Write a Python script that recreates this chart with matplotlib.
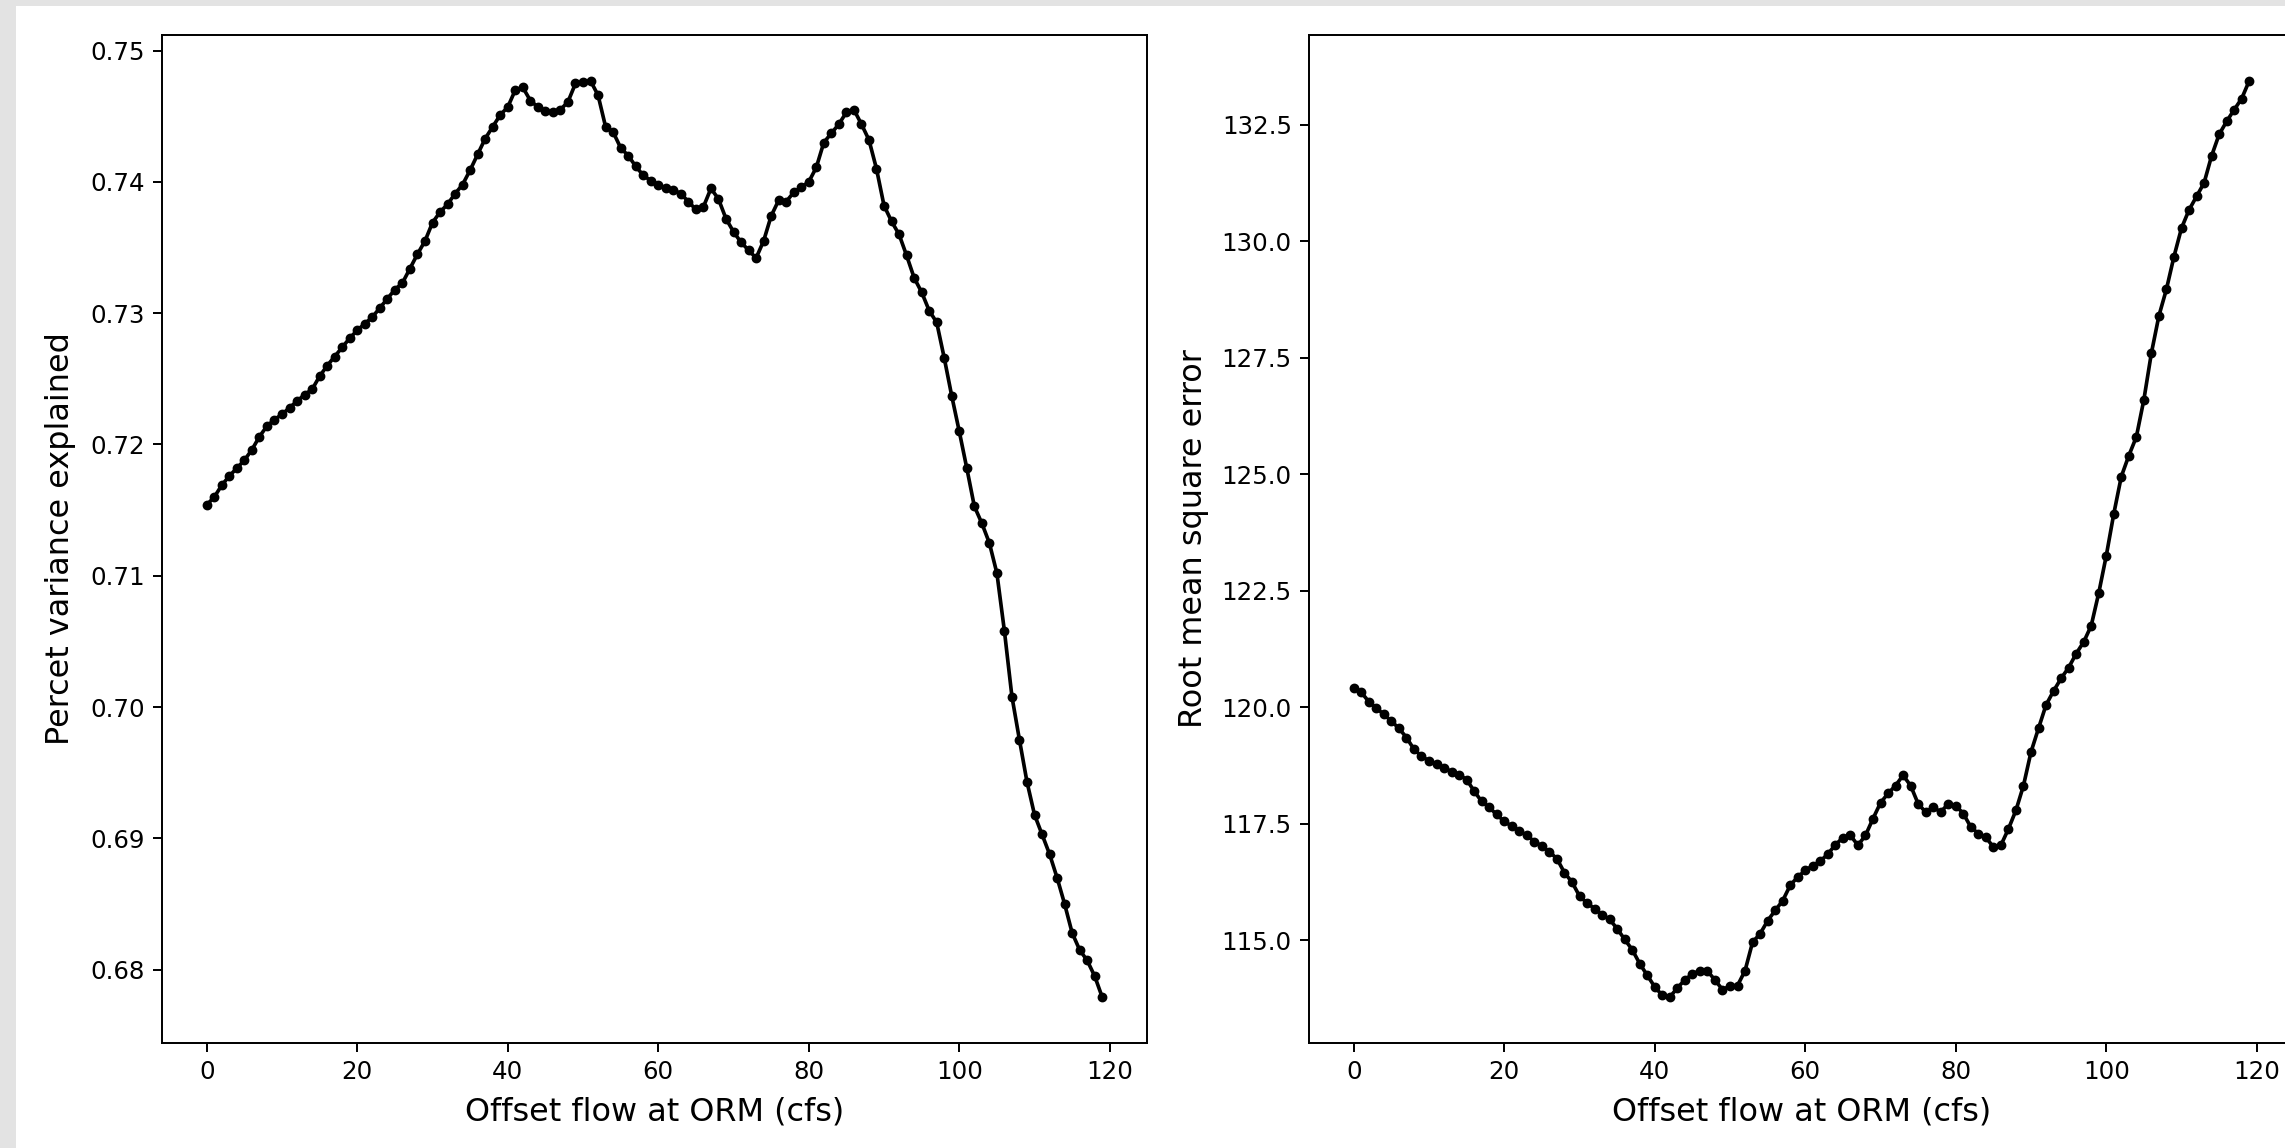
import numpy as np
import matplotlib
matplotlib.use("Agg")
import matplotlib.pyplot as plt
from matplotlib.patches import Rectangle

# ---------------- data ----------------
offset_cfs = list(range(0, 120))

pct_variance = [
    0.7154, 0.7160, 0.7169, 0.7176, 0.7182, 0.7188, 0.7196, 0.7206, 0.7214, 0.7219,
    0.7223, 0.7228, 0.7233, 0.7238, 0.7242, 0.7252, 0.7260, 0.7267, 0.7274, 0.7281,
    0.7287, 0.7292, 0.7297, 0.7304, 0.7311, 0.7318, 0.7323, 0.7334, 0.7345, 0.7355,
    0.7369, 0.7377, 0.7383, 0.7391, 0.7398, 0.7409, 0.7421, 0.7433, 0.7442, 0.7451,
    0.7457, 0.7470, 0.7472, 0.7462, 0.7457, 0.7454, 0.7453, 0.7455, 0.7461, 0.7475,
    0.7476, 0.7477, 0.7466, 0.7442, 0.7438, 0.7426, 0.7420, 0.7412, 0.7405, 0.7401,
    0.7398, 0.7395, 0.7394, 0.7391, 0.7385, 0.7379, 0.7381, 0.7395, 0.7387, 0.7372,
    0.7362, 0.7354, 0.7348, 0.7342, 0.7355, 0.7374, 0.7386, 0.7385, 0.7392, 0.7396,
    0.7400, 0.7411, 0.7430, 0.7437, 0.7444, 0.7453, 0.7455, 0.7444, 0.7432, 0.7410,
    0.7382, 0.7370, 0.7360, 0.7344, 0.7327, 0.7316, 0.7302, 0.7293, 0.7266, 0.7237,
    0.7210, 0.7182, 0.7153, 0.7140, 0.7125, 0.7102, 0.7058, 0.7008, 0.6975, 0.6943,
    0.6918, 0.6903, 0.6888, 0.6870, 0.6850, 0.6828, 0.6815, 0.6807, 0.6795, 0.6779,
]

rmse = [
    120.42, 120.32, 120.12, 119.98, 119.85, 119.70, 119.55, 119.35, 119.10, 118.95,
    118.85, 118.78, 118.70, 118.62, 118.55, 118.45, 118.20, 117.98, 117.85, 117.70,
    117.55, 117.45, 117.35, 117.25, 117.12, 117.02, 116.90, 116.75, 116.45, 116.25,
    115.95, 115.80, 115.68, 115.55, 115.45, 115.25, 115.02, 114.80, 114.50, 114.25,
    114.00, 113.82, 113.78, 113.98, 114.15, 114.28, 114.35, 114.34, 114.15, 113.94,
    114.02, 114.03, 114.35, 114.96, 115.14, 115.42, 115.64, 115.85, 116.18, 116.36,
    116.50, 116.60, 116.70, 116.85, 117.05, 117.20, 117.25, 117.04, 117.25, 117.61,
    117.95, 118.15, 118.32, 118.54, 118.32, 117.93, 117.75, 117.86, 117.75, 117.93,
    117.89, 117.72, 117.43, 117.29, 117.21, 117.00, 117.04, 117.39, 117.79, 118.32,
    119.04, 119.55, 120.05, 120.35, 120.62, 120.85, 121.15, 121.40, 121.75, 122.45,
    123.25, 124.15, 124.95, 125.40, 125.80, 126.60, 127.60, 128.40, 128.97, 129.67,
    130.28, 130.67, 130.96, 131.25, 131.83, 132.29, 132.57, 132.82, 133.06, 133.44,
]

xlabel_text = "Offset flow at ORM (cfs)"
ylabel_left = "Percet variance explained"
ylabel_right = "Root mean square error"

# ---------------- figure ----------------
W, H = 2285, 1148
DPI = 176.4
plt.rcParams['font.family'] = ['DejaVu Sans']
fig = plt.figure(figsize=(W / DPI, H / DPI), dpi=DPI)
fig.patch.set_facecolor('#e3e3e3')
# white figure canvas region (screenshot look)
fig.add_artist(Rectangle((16 / W, 0), 1 - 16 / W, (H - 6) / H,
                         transform=fig.transFigure, facecolor='white',
                         edgecolor='none', zorder=-10))

ax_w = 985 / W
ax_b = (H - 1043) / H
ax_h = 1008 / H
ax1 = fig.add_axes([162 / W, ax_b, ax_w, ax_h])
ax2 = fig.add_axes([1309 / W, ax_b, ax_w, ax_h])

ax1.plot(offset_cfs, pct_variance, 'k.-')
ax2.plot(offset_cfs, rmse, 'k.-')

ax1.set_ylabel(ylabel_left, fontsize=13, labelpad=6)
ax2.set_ylabel(ylabel_right, fontsize=13, labelpad=5)
for ax in (ax1, ax2):
    ax.set_xlabel(xlabel_text, fontsize=13, labelpad=5)
    ax.set_xticks([0, 20, 40, 60, 80, 100, 120])

fig.savefig("out.png", dpi=DPI, facecolor=fig.get_facecolor())
